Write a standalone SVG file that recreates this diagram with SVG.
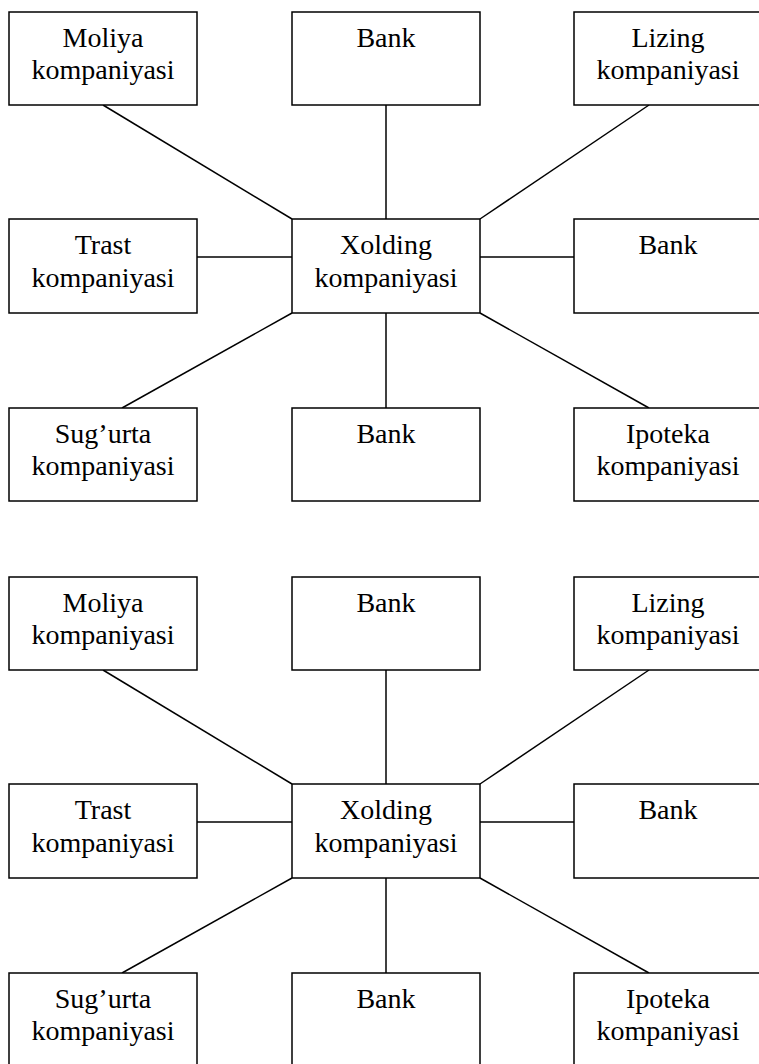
<svg xmlns="http://www.w3.org/2000/svg" width="759" height="1064" viewBox="0 0 759 1064">
  <style>
    .box { fill: #fff; stroke: #000; stroke-width: 1.5; }
    .link { stroke: #000; stroke-width: 1.5; fill: none; }
    text { font-family: 'Liberation Serif', 'Times New Roman', Times, 'DejaVu Serif', serif; font-size: 28px; fill: #000; text-anchor: middle; }
  </style>
  <rect width="759" height="1064" fill="#fff"/>

  <!-- upper structure -->
  <g id="diagram-1">
    <g id="connectors-1">
      <line class="link" x1="103" y1="105" x2="292" y2="219"/>
      <line class="link" x1="386" y1="105" x2="386" y2="219"/>
      <line class="link" x1="649" y1="105" x2="480" y2="219"/>
      <line class="link" x1="197" y1="257" x2="292" y2="257"/>
      <line class="link" x1="480" y1="257" x2="574" y2="257"/>
      <line class="link" x1="292" y1="313" x2="122" y2="408"/>
      <line class="link" x1="386" y1="313" x2="386" y2="408"/>
      <line class="link" x1="480" y1="313" x2="649" y2="408"/>
    </g>
    <g id="moliya-1">
      <rect class="box" x="9" y="12" width="188" height="93"/>
      <text x="103" y="47">Moliya</text>
      <text x="103" y="79">kompaniyasi</text>
    </g>
    <g id="bank-top-1">
      <rect class="box" x="292" y="12" width="188" height="93"/>
      <text x="386" y="47">Bank</text>
    </g>
    <g id="lizing-1">
      <rect class="box" x="574" y="12" width="188" height="93"/>
      <text x="668" y="47">Lizing</text>
      <text x="668" y="79">kompaniyasi</text>
    </g>
    <g id="trast-1">
      <rect class="box" x="9" y="219" width="188" height="94"/>
      <text x="103" y="254">Trast</text>
      <text x="103" y="287">kompaniyasi</text>
    </g>
    <g id="xolding-1">
      <rect class="box" x="292" y="219" width="188" height="94"/>
      <text x="386" y="254">Xolding</text>
      <text x="386" y="287">kompaniyasi</text>
    </g>
    <g id="bank-right-1">
      <rect class="box" x="574" y="219" width="188" height="94"/>
      <text x="668" y="254">Bank</text>
    </g>
    <g id="sugurta-1">
      <rect class="box" x="9" y="408" width="188" height="93"/>
      <text x="103" y="443">Sug’urta</text>
      <text x="103" y="475">kompaniyasi</text>
    </g>
    <g id="bank-bottom-1">
      <rect class="box" x="292" y="408" width="188" height="93"/>
      <text x="386" y="443">Bank</text>
    </g>
    <g id="ipoteka-1">
      <rect class="box" x="574" y="408" width="188" height="93"/>
      <text x="668" y="443">Ipoteka</text>
      <text x="668" y="475">kompaniyasi</text>
    </g>
  </g>

  <!-- lower structure -->
  <g id="diagram-2" transform="translate(0,565)">
    <g id="connectors-2">
      <line class="link" x1="103" y1="105" x2="292" y2="219"/>
      <line class="link" x1="386" y1="105" x2="386" y2="219"/>
      <line class="link" x1="649" y1="105" x2="480" y2="219"/>
      <line class="link" x1="197" y1="257" x2="292" y2="257"/>
      <line class="link" x1="480" y1="257" x2="574" y2="257"/>
      <line class="link" x1="292" y1="313" x2="122" y2="408"/>
      <line class="link" x1="386" y1="313" x2="386" y2="408"/>
      <line class="link" x1="480" y1="313" x2="649" y2="408"/>
    </g>
    <g id="moliya-2">
      <rect class="box" x="9" y="12" width="188" height="93"/>
      <text x="103" y="47">Moliya</text>
      <text x="103" y="79">kompaniyasi</text>
    </g>
    <g id="bank-top-2">
      <rect class="box" x="292" y="12" width="188" height="93"/>
      <text x="386" y="47">Bank</text>
    </g>
    <g id="lizing-2">
      <rect class="box" x="574" y="12" width="188" height="93"/>
      <text x="668" y="47">Lizing</text>
      <text x="668" y="79">kompaniyasi</text>
    </g>
    <g id="trast-2">
      <rect class="box" x="9" y="219" width="188" height="94"/>
      <text x="103" y="254">Trast</text>
      <text x="103" y="287">kompaniyasi</text>
    </g>
    <g id="xolding-2">
      <rect class="box" x="292" y="219" width="188" height="94"/>
      <text x="386" y="254">Xolding</text>
      <text x="386" y="287">kompaniyasi</text>
    </g>
    <g id="bank-right-2">
      <rect class="box" x="574" y="219" width="188" height="94"/>
      <text x="668" y="254">Bank</text>
    </g>
    <g id="sugurta-2">
      <rect class="box" x="9" y="408" width="188" height="93"/>
      <text x="103" y="443">Sug’urta</text>
      <text x="103" y="475">kompaniyasi</text>
    </g>
    <g id="bank-bottom-2">
      <rect class="box" x="292" y="408" width="188" height="93"/>
      <text x="386" y="443">Bank</text>
    </g>
    <g id="ipoteka-2">
      <rect class="box" x="574" y="408" width="188" height="93"/>
      <text x="668" y="443">Ipoteka</text>
      <text x="668" y="475">kompaniyasi</text>
    </g>
  </g>
</svg>
